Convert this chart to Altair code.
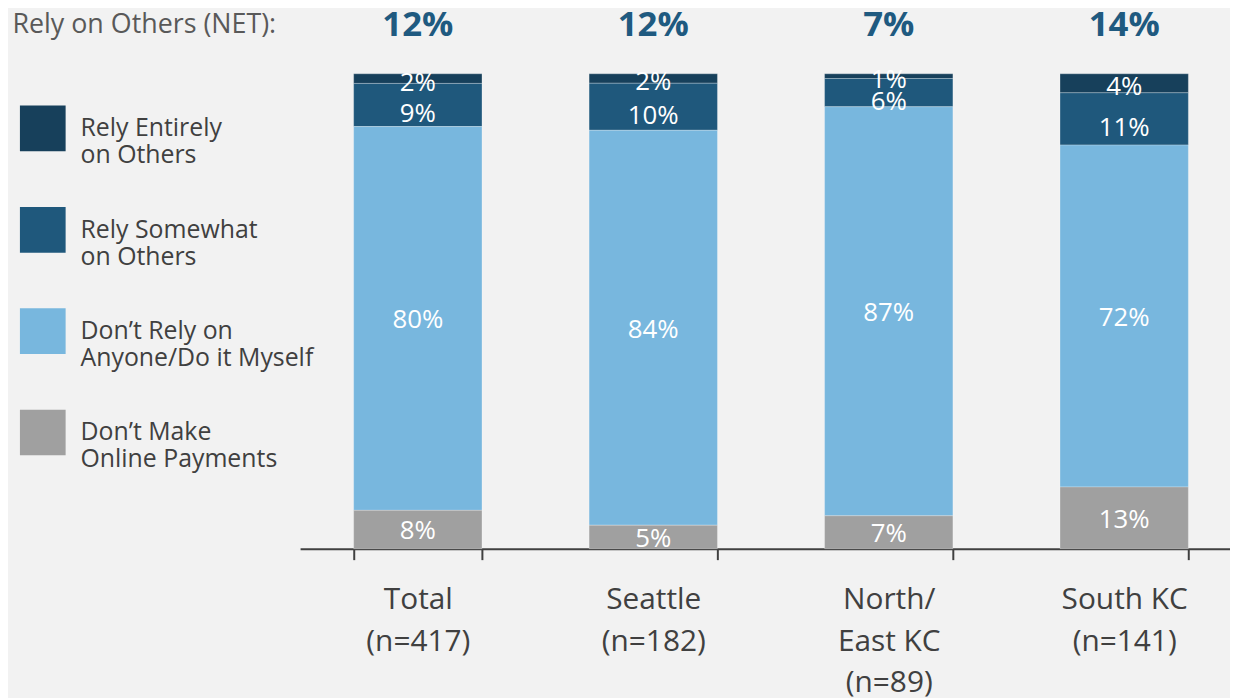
import altair as alt
import pandas as pd

groups = ["Total", "Seattle", "North/East KC", "South KC"]
group_lines = [["Total", "(n=417)"], ["Seattle", "(n=182)"], ["North/", "East KC", "(n=89)"], ["South KC", "(n=141)"]]
net = [12, 12, 7, 14]

series = ["Rely Entirely on Others", "Rely Somewhat on Others",
          "Don’t Rely on Anyone/Do it Myself", "Don’t Make Online Payments"]
series_lines = [["Rely Entirely", "on Others"], ["Rely Somewhat", "on Others"],
                ["Don’t Rely on", "Anyone/Do it Myself"], ["Don’t Make", "Online Payments"]]
stack_rank = [3, 2, 1, 0]  # 0 = bottom of the bar

rely_entirely = [2, 2, 1, 4]
rely_somewhat = [9, 10, 6, 11]
dont_rely = [80, 84, 87, 72]
dont_make = [8, 5, 7, 13]
values = [rely_entirely, rely_somewhat, dont_rely, dont_make]

colors = ["#17405b", "#1f587c", "#78b7de", "#a0a0a0"]

rows = []
for s, rank, vals in zip(series, stack_rank, values):
    for g, v in zip(groups, vals):
        rows.append({"group": g, "series": s, "rank": rank, "value": v})
df = pd.DataFrame(rows)
net_df = pd.DataFrame({"group": groups, "net": net})


def ternary(keys, lines):
    expr = "datum.label"
    for k, l in reversed(list(zip(keys, lines))):
        arr = "[" + ",".join("'" + t + "'" for t in l) + "]"
        expr = f"datum.label == '{k}' ? {arr} : ({expr})"
    return expr


x_scale = alt.Scale(domain=groups, range=[0, 948], paddingInner=0.455, paddingOuter=0.2275)
y_scale = alt.Scale(domain=[0, 1], nice=False, zero=True)

x_axis = alt.Axis(title=None, labelAngle=0, tickBand="extent", ticks=True,
                  labelExpr=ternary(groups, group_lines),
                  labelFontSize=30, labelLineHeight=42, labelColor="#404040",
                  labelPadding=25, labelLimit=0, tickSize=11, tickWidth=2,
                  tickColor="#404040", tickOpacity=1, domainColor="#404040", domainWidth=2,
                  grid=False)
y_axis = alt.Axis(title="Rely on Others (NET):", labels=False, ticks=False,
                  domain=False, grid=False, titleAngle=0, titleX=-290, titleY=-50,
                  titleAlign="left", titleBaseline="middle", titleFontSize=27,
                  titleFontWeight="normal", titleColor="#595959")

base = alt.Chart(df).transform_stack(
    stack="value", groupby=["group"], as_=["y0", "y1"],
    offset="normalize", sort=[alt.SortField("rank", order="ascending")]
).transform_calculate(
    mid="(datum.y0 + datum.y1) / 2",
    label="datum.value + '%'"
)

bars = base.mark_bar(stroke="#ffffff", strokeOpacity=0.25, strokeWidth=1).encode(
    x=alt.X("group:N", sort=groups, scale=x_scale, axis=x_axis),
    y=alt.Y("y0:Q", scale=y_scale, axis=y_axis),
    y2="y1:Q",
    color=alt.Color("series:N", scale=alt.Scale(domain=series, range=colors),
                    legend=alt.Legend(title=None, orient="none", legendX=-282, legendY=32,
                                      symbolType="square", symbolSize=2116,
                                      symbolStrokeWidth=0, symbolOpacity=1,
                                      labelFontSize=25, labelColor="#404040",
                                      labelLimit=0, labelOffset=15, rowPadding=39,
                                      padding=0,
                                      labelExpr=ternary(series, series_lines))),
)


def seg_labels(filter_expr, dy):
    return base.transform_filter(filter_expr).mark_text(
        color="white", fontSize=26, baseline="middle", dy=dy
    ).encode(
        x=alt.X("group:N", sort=groups, scale=x_scale, axis=x_axis),
        y=alt.Y("mid:Q", scale=y_scale, axis=y_axis),
        text="label:N",
    )


seg_somewhat = seg_labels("datum.series == 'Rely Somewhat on Others'", 9)
seg_entirely = seg_labels("datum.series == 'Rely Entirely on Others'", 4)
seg_rest = seg_labels("datum.rank < 2", 2)

net_text = alt.Chart(net_df).transform_calculate(
    label="datum.net + '%'"
).mark_text(color="#1f5a80", fontSize=35, fontWeight="bold", baseline="middle").encode(
    x=alt.X("group:N", sort=groups, scale=x_scale, axis=x_axis),
    y=alt.value(-49),
    text="label:N",
)

chart = alt.layer(bars, seg_rest, seg_somewhat, seg_entirely, net_text).properties(
    width=936, height=478,
    autosize=alt.AutoSizeParams(type="none"),
    padding={"left": 294, "top": 64, "right": 0, "bottom": 148},
    background="#f2f2f2",
).configure(font="Open Sans").configure_view(stroke=None)

chart.save("out.html", embed_options={"renderer": "svg", "actions": False})
